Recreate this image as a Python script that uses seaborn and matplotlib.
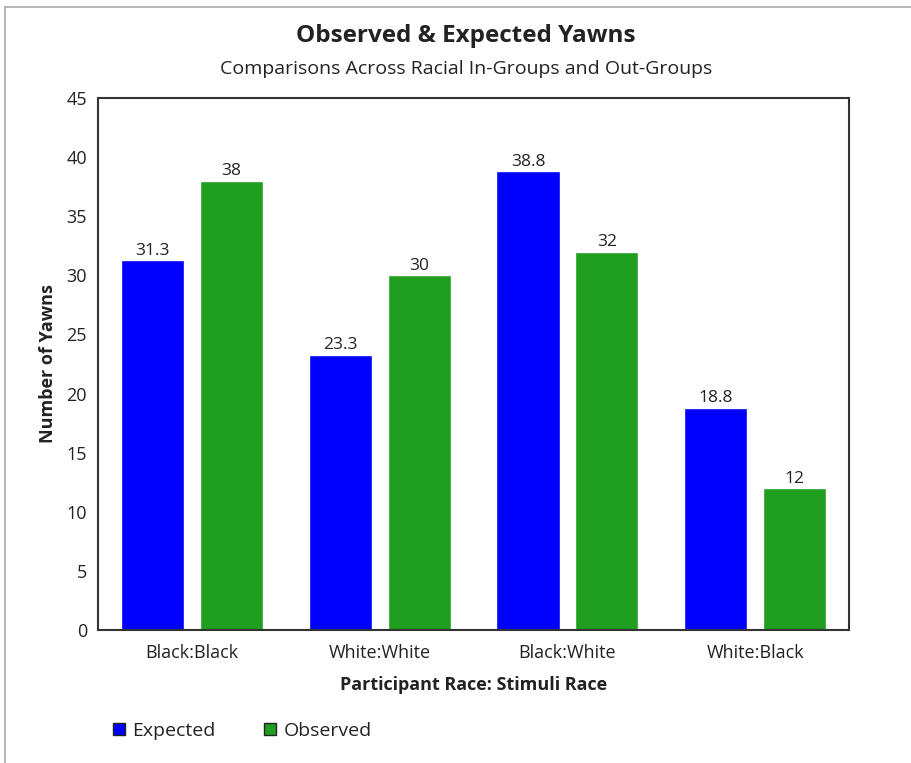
import matplotlib
matplotlib.use('Agg')
import matplotlib.pyplot as plt
from matplotlib.lines import Line2D
import pandas as pd
import seaborn as sns

# Chart data
groups = ['Black:Black', 'White:White', 'Black:White', 'White:Black']
expected = [31.3, 23.3, 38.8, 18.8]
observed = [38, 30, 32, 12]
series = ['Expected', 'Observed']
colors = {'Expected': '#0000ff', 'Observed': '#1f9e1f'}

df = pd.DataFrame({
    'group': groups * 2,
    'series': ['Expected'] * len(groups) + ['Observed'] * len(groups),
    'value': expected + observed,
})

sns.set_style('white')
plt.rcParams['font.family'] = ['Open Sans', 'DejaVu Sans']

fig = plt.figure(figsize=(9.12, 7.63), dpi=100)
ax = fig.add_axes([0.1075, 0.1743, 0.8235, 0.6973])

sns.barplot(data=df, x='group', y='value', hue='series', order=groups,
            hue_order=series, palette=colors, width=0.84, gap=0.2,
            ax=ax, legend=False, saturation=1)

# value labels
for cont, vals in zip(ax.containers, [expected, observed]):
    labels = [f'{v:g}' for v in vals]
    ax.bar_label(cont, labels=labels, padding=1, fontsize=12.5, color='#222222')

ax.set_ylim(0, 45)
ax.set_yticks(range(0, 46, 5))
ax.tick_params(axis='both', length=0, labelsize=13, colors='#222222', pad=8)
ax.tick_params(axis='x', pad=10)
ax.set_xlabel('Participant Race: Stimuli Race', fontsize=13, fontweight='bold',
              color='#222222', labelpad=10)
ax.set_ylabel('Number of Yawns', fontsize=13, fontweight='bold', color='#222222',
              labelpad=7)
for s in ax.spines.values():
    s.set_visible(True)
    s.set_color('#333333')
    s.set_linewidth(1.5)

fig.text(0.511, 0.953, 'Observed & Expected Yawns', ha='center', va='center',
         fontsize=17.5, fontweight='bold', color='#222222')
fig.text(0.511, 0.909, 'Comparisons Across Racial In-Groups and Out-Groups',
         ha='center', va='center', fontsize=14, color='#222222')

handles = [Line2D([], [], marker='s', linestyle='none', markersize=9,
                  markerfacecolor=colors[s], markeredgecolor='#222222',
                  markeredgewidth=1) for s in series]
fig.legend(handles, series, loc='center left', bbox_to_anchor=(0.098, 0.042),
           ncol=2, frameon=False, fontsize=14, handletextpad=0.1,
           handlelength=1.2, columnspacing=2.2, labelcolor='#222222')

# outer frame lines (top and left)
fig.add_artist(Line2D([0.005, 1.0], [0.991, 0.991], color='#aaaaaa', lw=1.2))
fig.add_artist(Line2D([0.005, 0.005], [0.0, 0.991], color='#aaaaaa', lw=1.2))

fig.savefig('out.png', dpi=100)
